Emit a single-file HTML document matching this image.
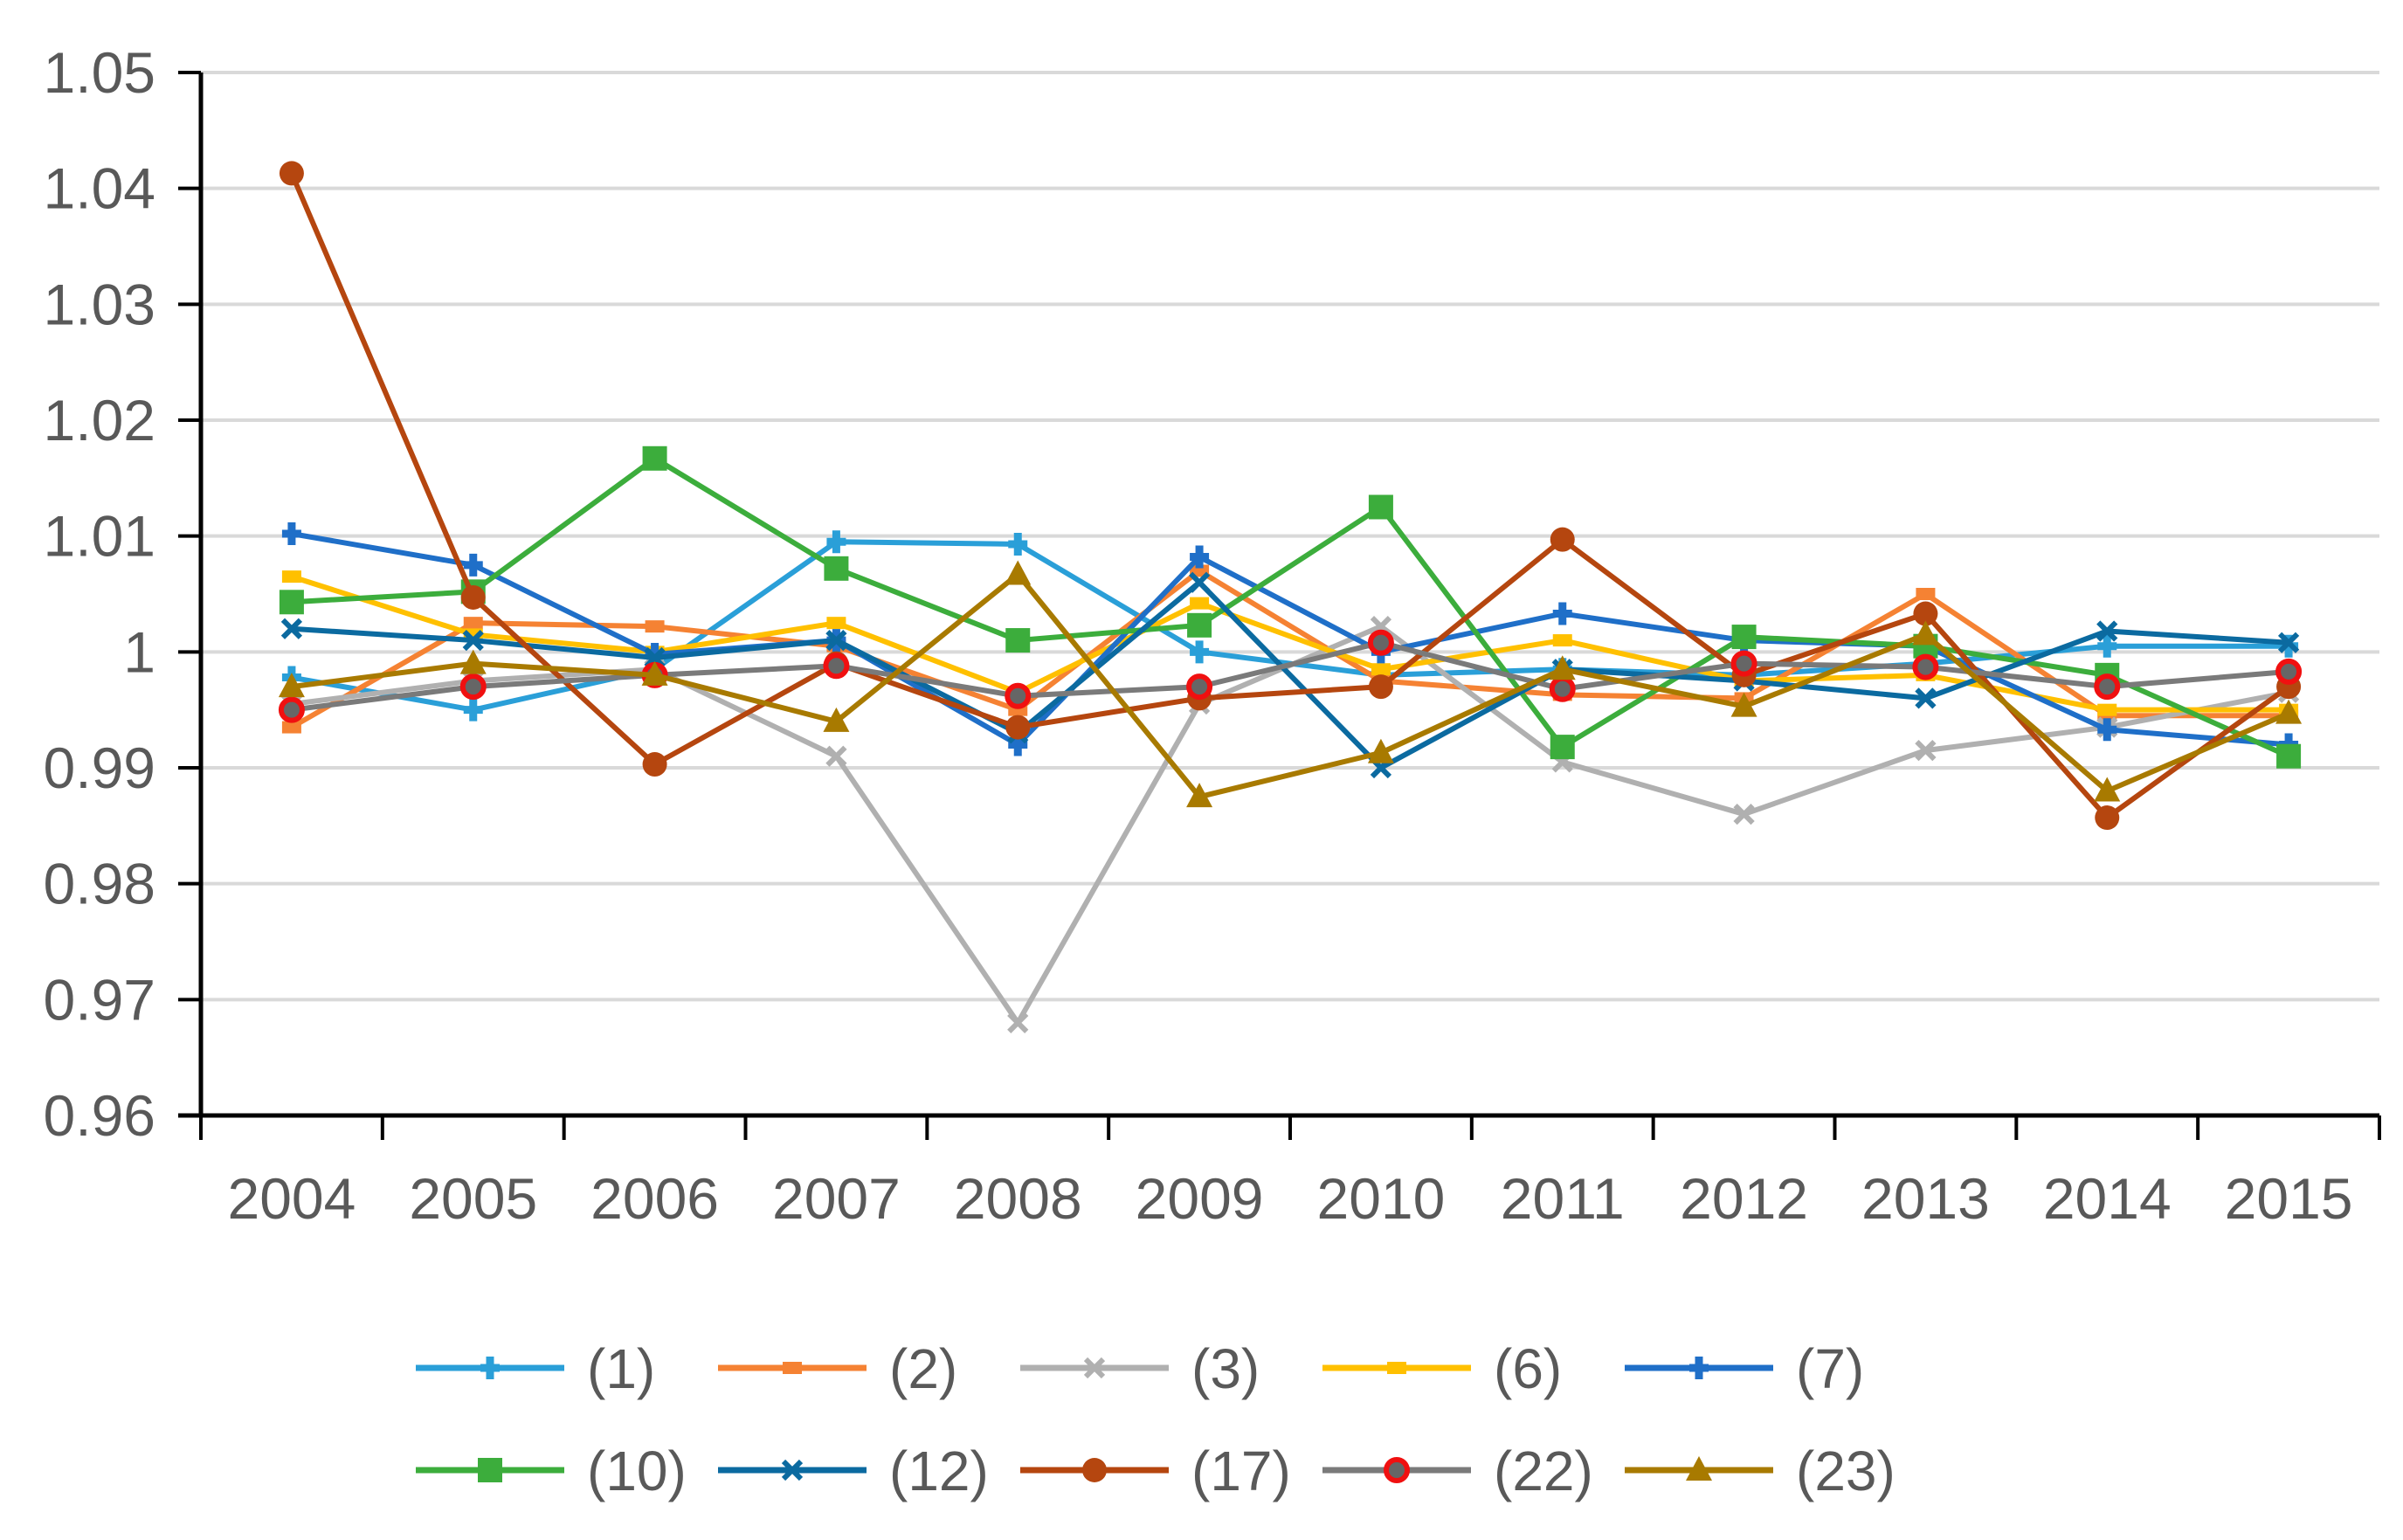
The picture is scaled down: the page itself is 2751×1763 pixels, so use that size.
<!DOCTYPE html>
<html><head><meta charset="utf-8"><style>
html,body{margin:0;padding:0;background:#fff}
svg{display:block}
text{font-family:"Liberation Sans",sans-serif;fill:#595959}
</style></head><body>
<svg id="chart" width="2751" height="1763" viewBox="0 0 2751 1763" xmlns="http://www.w3.org/2000/svg">
<g id="grid"></g>
<g id="axes"></g>
<g id="series"></g>
<g id="legend"></g>
</svg>
<script>
const years = ["2004","2005","2006","2007","2008","2009","2010","2011","2012","2013","2014","2015"];
const yTicks = [0.96,0.97,0.98,0.99,1,1.01,1.02,1.03,1.04,1.05];
const yTickLabels = ["0.96","0.97","0.98","0.99","1","1.01","1.02","1.03","1.04","1.05"];
const seriesNames = ["(1)","(2)","(3)","(6)","(7)","(10)","(12)","(17)","(22)","(23)"];
const s1  = [0.9978,0.995,0.9985,1.0095,1.0093,1.0,0.998,0.9985,0.998,0.999,1.0005,1.0005];
const s2  = [0.9935,1.0025,1.0022,1.0005,0.995,1.007,0.9975,0.9963,0.996,1.005,0.9945,0.9945];
const s3  = [0.9955,0.9975,0.9985,0.991,0.968,0.9955,1.0022,0.9905,0.986,0.9915,0.9935,0.9965];
const s6  = [1.0065,1.0015,1.0,1.0025,0.9965,1.0042,0.9985,1.001,0.9975,0.998,0.995,0.995];
const s7  = [1.0102,1.0075,0.9998,1.001,0.992,1.0082,1.0,1.0033,1.001,1.0005,0.9933,0.992];
const s10 = [1.0043,1.0052,1.0167,1.0072,1.001,1.0023,1.0125,0.9918,1.0013,1.0005,0.998,0.991];
const s12 = [1.002,1.001,0.9995,1.001,0.993,1.006,0.990,0.9985,0.9975,0.996,1.0018,1.0008];
const s17 = [1.0413,1.0047,0.9903,0.999,0.9935,0.996,0.997,1.0097,0.998,1.0033,0.9857,0.997];
const s22 = [0.995,0.997,0.998,0.9988,0.9962,0.997,1.0008,0.9968,0.999,0.9987,0.997,0.9983];
const s23 = [0.997,0.999,0.998,0.994,1.0067,0.9875,0.9913,0.9985,0.9953,1.0015,0.988,0.9947];
const allSeries = [s1,s2,s3,s6,s7,s10,s12,s17,s22,s23];

const colors = ["#2a9fd8","#f58233","#b0b0b0","#ffc000","#1f6fc8","#3cad3c","#0b6aa0","#b5460f","#7a7a7a","#a87a00"];
const markers = ["plus","dash","x","dash","plus","square","x","circle","ring","tri"];
const NS="http://www.w3.org/2000/svg";
const L=230,R=2724,T=83,B=1277,yMin=0.96,yMax=1.05;
const bw=(R-L)/years.length;
const xs=i=>L+bw*(i+0.5);
const ys=v=>B-(v-yMin)/(yMax-yMin)*(B-T);
function mk(tag,attrs,parent){const e=document.createElementNS(NS,tag);for(const k in attrs)e.setAttribute(k,attrs[k]);parent.appendChild(e);return e;}
const grid=document.getElementById('grid'),axes=document.getElementById('axes'),ser=document.getElementById('series'),leg=document.getElementById('legend');
yTicks.forEach((v,i)=>{
  if(v>yMin){const g=mk('line',{x1:L,x2:R,y1:ys(v),y2:ys(v),stroke:'#d9d9d9','stroke-width':4},grid);
  
  }
  const t=mk('line',{x1:L-26,x2:L,y1:ys(v),y2:ys(v),stroke:'#000','stroke-width':4},axes);
  
  
  const tx=mk('text',{x:178,y:ys(v)+23,'text-anchor':'end','font-size':66},axes);
  tx.textContent=yTickLabels[i];
  
  
});
const ya=mk('line',{x1:L,x2:L,y1:T,y2:B+2,stroke:'#000','stroke-width':5},axes);


const xa=mk('line',{x1:L-26,x2:R,y1:B,y2:B,stroke:'#000','stroke-width':5},axes);


for(let i=0;i<=years.length;i++){
  const t=mk('line',{x1:L+bw*i,x2:L+bw*i,y1:B,y2:B+28,stroke:'#000','stroke-width':4},axes);
  
  
}
years.forEach((y,i)=>{
  const t=mk('text',{x:xs(i),y:1395,'text-anchor':'middle','font-size':66},axes);
  t.textContent=y;
  
  
});
function marker(type,x,y,c,p){
  let e;
  if(type==='plus'){e=mk('path',{d:`M${x-11} ${y}H${x+11}M${x} ${y-13}V${y+13}`,stroke:c,'stroke-width':9},p);}
  else if(type==='dash'){e=mk('rect',{x:x-11,y:y-7,width:22,height:14,fill:c},p);}
  else if(type==='x'){e=mk('path',{d:`M${x-10} ${y-10}L${x+10} ${y+10}M${x+10} ${y-10}L${x-10} ${y+10}`,stroke:c,'stroke-width':6},p);}
  else if(type==='square'){e=mk('rect',{x:x-14,y:y-14,width:28,height:28,fill:c},p);}
  else if(type==='circle'){e=mk('circle',{cx:x,cy:y,r:14,fill:c},p);}
  else if(type==='ring'){e=mk('circle',{cx:x,cy:y,r:12,fill:'#666',stroke:'#f01010','stroke-width':6},p);}
  else {e=mk('path',{d:`M${x} ${y-16}L${x+15} ${y+12}L${x-15} ${y+12}Z`,fill:c},p);}
  return e;
}
allSeries.forEach((s,k)=>{
  const g=mk('g',{},ser);
  
  
  const pl=mk('polyline',{points:s.map((v,i)=>xs(i)+','+ys(v)).join(' '),fill:'none',stroke:colors[k],'stroke-width':6,'stroke-linejoin':'round'},g);
  
  
  s.forEach((v,i)=>{const m=marker(markers[k],xs(i),ys(v),colors[k],g);
    
    });
});
seriesNames.forEach((n,k)=>{
  const row=Math.floor(k/5),col=k%5;
  const x0=476+col*346,y0=row?1683:1566;
  const g=mk('g',{},leg);
  
  
  mk('line',{x1:x0,x2:x0+170,y1:y0,y2:y0,stroke:colors[k],'stroke-width':7},g);
  marker(markers[k],x0+85,y0,colors[k],g);
  const t=mk('text',{x:x0+196,y:y0+23,'font-size':64},g);
  t.textContent=n;
  
  
});
</script>
</body></html>
